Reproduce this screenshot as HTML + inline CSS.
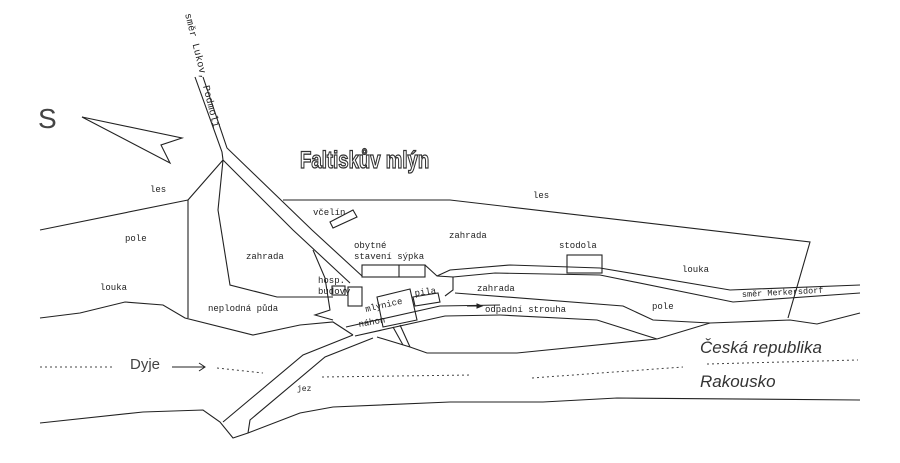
<!DOCTYPE html>
<html><head><meta charset="utf-8"><style>
html,body{margin:0;padding:0;background:#fff;}
svg{display:block;}
text{font-family:"Liberation Mono","DejaVu Sans Mono",monospace;font-size:9px;fill:#222;}
</style></head><body>
<svg width="900" height="463" viewBox="0 0 900 463" xmlns="http://www.w3.org/2000/svg">
<g fill="none" stroke="#222" stroke-width="1.1">
<polygon points="82,117 182,138 161,145 170,163"/>
<polyline points="195,77 222,152 223,160"/>
<polyline points="203,77 227,148 312,230 362,276"/>
<polyline points="223,160 293,230 350,283"/>
<polyline points="223,160 188,200 188,318"/>
<polyline points="223,160 218,210 230,285 277,297 333,297"/>
<polyline points="40,230 188,200"/>
<polyline points="283,200 450,200 810,242 788,318"/>
<polyline points="40,318 80,313 125,302 163,305 185,318 253,335 300,325 333,322 353,335"/>
<polyline points="313,250 325,278 330,310 315,315 333,320"/>
<polyline points="40,423 143,412 203,410 220,422 233,438 248,433 300,413 333,407 450,402 543,402 617,398 860,400"/>
<polyline points="223,422 303,355 353,335"/>
<polyline points="248,433 250,420 325,357 373,338"/>
<polyline points="346,327 440,306 500,305"/>
<polyline points="355,336 445,316 500,315"/>
<polyline points="393,327 403,345"/>
<polyline points="400,325 410,347"/>
<polyline points="377,337 410,347 427,353 517,353 657,339"/>
<rect x="362" y="265" width="63" height="12"/>
<line x1="399" y1="265" x2="399" y2="277"/>
<rect x="332" y="286" width="13" height="9"/>
<rect x="348" y="287" width="14" height="19"/>
<polygon points="377,297 410,289 417,320 383,327"/>
<polygon points="413,297 438,293 440,302 415,306"/>
<polygon points="330,222 353,210 357,217 333,228"/>
<rect x="567" y="255" width="35" height="18"/>
<polyline points="425,265 437,276 453,277 453,290 445,296"/>
<polyline points="437,276 450,270 510,265 600,268 730,290 860,285"/>
<polyline points="453,277 495,273 600,275 733,302 860,293"/>
<polyline points="455,293 623,306 653,320 710,323"/>
<polyline points="500,315 597,320 657,339"/>
<polyline points="657,339 710,323 790,320 817,324 860,313"/>
</g>
<g fill="none" stroke="#444" stroke-width="1" stroke-dasharray="2,3">
<line x1="40" y1="367" x2="115" y2="367"/>
<line x1="217" y1="368" x2="263" y2="373"/>
<line x1="322" y1="377" x2="472" y2="375"/>
<line x1="532" y1="378" x2="683" y2="367"/>
<line x1="707" y1="364" x2="858" y2="360"/>
</g>
<g stroke="#222" fill="none" stroke-width="1">
<line x1="172" y1="367" x2="205" y2="367"/><polyline points="199,363 205,367 199,371"/>
<line x1="467" y1="306" x2="480" y2="306"/><polygon points="477,304 482,306 477,308" fill="#222"/>
</g>
<text x="38" y="128" style="font-family:'Liberation Sans',sans-serif;font-size:28px;fill:#444">S</text>
<text transform="translate(300,168) scale(0.93,1.2)" style="font-family:'Liberation Sans',sans-serif;font-size:20px;font-weight:bold;fill:#fff;stroke:#333;stroke-width:1.1">Faltiskův mlýn</text>
<text transform="translate(185,14) rotate(76)" style="font-size:10px;letter-spacing:0.2px">směr Lukov, Podmolí</text>
<text x="150" y="192">les</text>
<text x="125" y="241">pole</text>
<text x="100" y="290">louka</text>
<text x="246" y="259">zahrada</text>
<text x="208" y="311">neplodná půda</text>
<text x="313" y="215">včelín</text>
<text x="354" y="248">obytné</text>
<text x="354" y="259">stavení sýpka</text>
<text x="449" y="238">zahrada</text>
<text x="533" y="198">les</text>
<text x="559" y="248">stodola</text>
<text x="682" y="272">louka</text>
<text x="318" y="283">hosp.</text>
<text x="318" y="294">budovy</text>
<text transform="translate(366,312) rotate(-13)">mlýnice</text>
<text transform="translate(415,296) rotate(-8)">pila</text>
<text transform="translate(359,327) rotate(-10)">náhon</text>
<text x="477" y="291">zahrada</text>
<text x="485" y="312">odpadní strouha</text>
<text x="652" y="309">pole</text>
<text transform="translate(742,297) rotate(-3)" style="font-size:8.5px">směr Merkersdorf</text>
<text x="297" y="391" style="font-size:8px">jez</text>
<text x="130" y="369" style="font-family:'Liberation Sans',sans-serif;font-size:15px;fill:#444">Dyje</text>
<text x="700" y="353" style="font-family:'Liberation Sans',sans-serif;font-size:17px;font-style:italic;fill:#333">Česká republika</text>
<text x="700" y="387" style="font-family:'Liberation Sans',sans-serif;font-size:17px;font-style:italic;fill:#333">Rakousko</text>
</svg>
</body></html>
